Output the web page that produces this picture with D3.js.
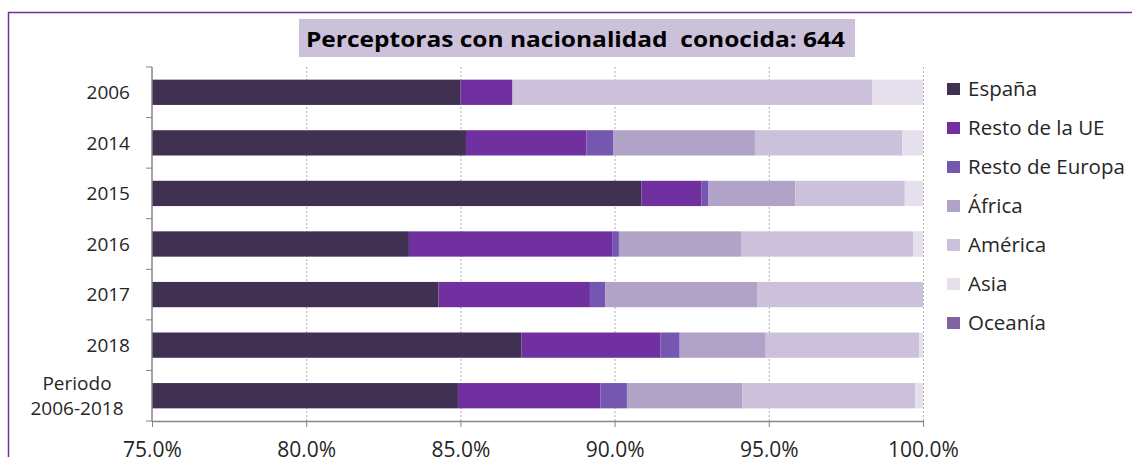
<!DOCTYPE html>
<html>
<head>
<meta charset="utf-8">
<script src="https://cdn.jsdelivr.net/npm/d3@7"></script>
<style>
  body { margin: 0; background: #fff; }
  svg { display: block; font-family: "Open Sans", sans-serif; }
</style>
</head>
<body>
<svg id="chart"></svg>
<script>
var categories = ["2006", "2014", "2015", "2016", "2017", "2018", "Periodo 2006-2018"];
var series = ["España", "Resto de la UE", "Resto de Europa", "África", "América", "Asia", "Oceanía"];
var espana        = [85.00, 85.18, 90.87, 83.33, 84.29, 86.98, 84.92];
var restoUE       = [ 1.69,  3.91,  1.95,  6.61,  4.91,  4.51,  4.62];
var restoEuropa   = [ 0.00,  0.86,  0.21,  0.20,  0.50,  0.62,  0.86];
var africa        = [ 0.00,  4.60,  2.83,  3.98,  4.92,  2.79,  3.75];
var america       = [11.67,  4.78,  3.55,  5.56,  5.38,  4.98,  5.60];
var asia          = [ 1.64,  0.67,  0.59,  0.32,  0.00,  0.12,  0.25];
var oceania       = [ 0.00,  0.00,  0.00,  0.00,  0.00,  0.00,  0.00];
var xTicks = [75, 80, 85, 90, 95, 100];
var colors = ["#403152", "#7030a0", "#7556b0", "#b1a2c8", "#ccc1da", "#e5e0ec", "#8064a2"];

var width = 1132,
    height = 457;

var margin = {top: 67, left: 152, right: 209, bottom: 36},
    innerwidth = width - margin.left - margin.right,
    innerheight = height - margin.top - margin.bottom;

var rows = categories.map(function(c, i) {
    return {
        cat: c,
        "España": espana[i],
        "Resto de la UE": restoUE[i],
        "Resto de Europa": restoEuropa[i],
        "África": africa[i],
        "América": america[i],
        "Asia": asia[i],
        "Oceanía": oceania[i]
    };
});

var stacked = d3.stack().keys(series)(rows);

var x = d3.scaleLinear().domain([75, 100]).range([0, innerwidth]);
var y = d3.scaleBand().domain(categories).range([0, innerheight]).paddingInner(0.5).paddingOuter(0.25);
var color = d3.scaleOrdinal().domain(series).range(colors);

var svg = d3.select("#chart")
    .attr("width", width)
    .attr("height", height);

// outer frame
svg.append("rect")
    .attr("x", 8.5).attr("y", 12.5)
    .attr("width", 1300).attr("height", 700)
    .attr("fill", "none")
    .attr("stroke", "#7030a0")
    .attr("stroke-width", 1.5);

// title
svg.append("rect")
    .attr("x", 299).attr("y", 19)
    .attr("width", 556).attr("height", 38)
    .attr("fill", "#ccc1da");
svg.append("text")
    .attr("x", 306).attr("y", 47)
    .style("white-space", "pre")
    .attr("font-size", 22)
    .attr("font-weight", "bold")
    .attr("fill", "#000")
    .attr("textLength", 539)
    .attr("lengthAdjust", "spacingAndGlyphs")
    .text("Perceptoras con nacionalidad  conocida: 644");

var g = svg.append("g")
    .attr("transform", "translate(" + margin.left + "," + margin.top + ")");

g.append("clipPath").attr("id", "clip")
    .append("rect").attr("width", innerwidth).attr("height", innerheight);

// gridlines
g.append("g").selectAll("line")
    .data(xTicks.slice(1))
    .enter().append("line")
    .attr("x1", function(d) { return x(d) + 0.5; })
    .attr("x2", function(d) { return x(d) + 0.5; })
    .attr("y1", 0).attr("y2", innerheight)
    .attr("stroke", "#b0b0b0")
    .attr("stroke-dasharray", "2,2");

// bars
g.append("g").attr("clip-path", "url(#clip)")
    .selectAll("g")
    .data(stacked)
    .enter().append("g")
    .attr("fill", function(d) { return color(d.key); })
    .selectAll("rect")
    .data(function(d) { return d; })
    .enter().append("rect")
    .attr("x", function(d) { return x(d[0]); })
    .attr("width", function(d) { return Math.max(0, x(d[1]) - x(d[0])); })
    .attr("y", function(d) { return y(d.data.cat); })
    .attr("height", y.bandwidth());

// x axis
var xAxis = g.append("g")
    .attr("class", "x axis")
    .attr("transform", "translate(0," + innerheight + ")")
    .call(d3.axisBottom(x).tickValues(xTicks).tickSizeInner(6).tickSizeOuter(0).tickPadding(15)
        .tickFormat(function(d) { return d.toFixed(1).replace(".", ",") + "%"; }));
xAxis.select(".domain").attr("stroke", "#868686").attr("stroke-width", 1.5);
xAxis.selectAll(".tick line").attr("stroke", "#868686");
xAxis.selectAll(".tick text")
    .attr("font-size", 21)
    .attr("font-family", "Open Sans, sans-serif")
    .attr("fill", "#262626");

// y axis with ticks at band boundaries
var yAxis = g.append("g").attr("class", "y axis");
yAxis.append("line")
    .attr("x1", 0).attr("x2", 0)
    .attr("y1", 0).attr("y2", innerheight)
    .attr("stroke", "#868686").attr("stroke-width", 1.5);
var step = y.step();
yAxis.selectAll(".ytick")
    .data(d3.range(categories.length + 1))
    .enter().append("line")
    .attr("class", "ytick")
    .attr("x1", -6).attr("x2", 0)
    .attr("y1", function(i) { return i * step; })
    .attr("y2", function(i) { return i * step; })
    .attr("stroke", "#868686");

yAxis.selectAll(".ylabel")
    .data(categories)
    .enter().append("text")
    .attr("class", "ylabel")
    .attr("font-size", 19)
    .attr("fill", "#262626")
    .each(function(d) {
        var t = d3.select(this),
            cy = y(d) + y.bandwidth() / 2;
        if (d.indexOf(" ") < 0) {
            t.attr("x", -22).attr("y", cy).attr("dy", "0.35em")
                .attr("text-anchor", "end").text(d);
        } else {
            var parts = d.split(" ");
            t.attr("text-anchor", "middle");
            parts.forEach(function(p, k) {
                t.append("tspan")
                    .attr("x", -75)
                    .attr("y", cy + (k - 0.5) * 25)
                    .attr("dy", "0.35em")
                    .text(p);
            });
        }
    });

// legend
var legend = svg.append("g")
    .attr("transform", "translate(947,89)");
var item = legend.selectAll("g")
    .data(series)
    .enter().append("g")
    .attr("transform", function(d, i) { return "translate(0," + (i * 39) + ")"; });
item.append("rect")
    .attr("x", 0).attr("y", -6)
    .attr("width", 13).attr("height", 12)
    .attr("fill", function(d) { return color(d); });
item.append("text")
    .attr("x", 21).attr("y", 0).attr("dy", "0.35em")
    .attr("font-size", 20.5)
    .attr("fill", "#262626")
    .text(function(d) { return d; });
</script>
</body>
</html>
